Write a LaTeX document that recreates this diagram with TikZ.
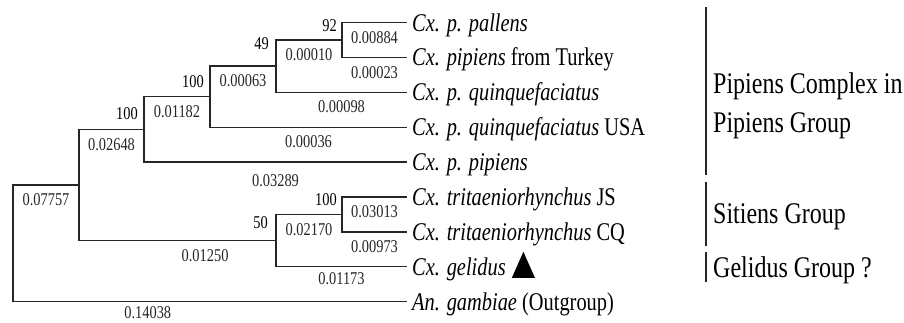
\documentclass[tikz,border=0pt]{standalone}
\usepackage{fontspec}
\setmainfont[FakeStretch=0.8]{Liberation Serif}
\usetikzlibrary{positioning}

\begin{document}
\begin{tikzpicture}[
    x=1pt, y=-1pt,
    branch/.style={line width=1.3pt, black!85},
    bar/.style={line width=1.8pt, black!85},
    leaf/.style={anchor=west, inner xsep=5pt, inner ysep=0pt,
                 text height=17pt, text depth=0pt,
                 font=\fontsize{25.5}{28}\selectfont},
    boot/.style={anchor=east, inner sep=0pt,
                 text height=12pt, text depth=0pt,
                 font=\fontsize{18}{20}\selectfont},
    len/.style={below=7pt, inner sep=1pt,
                text height=12pt, text depth=0pt,
                font=\fontsize{18}{20}\selectfont},
    grp/.style={anchor=base west, inner sep=0pt,
                font=\fontsize{30}{39}\selectfont}
]
  \fill[white] (0,0) rectangle (904,322);
  \useasboundingbox (0,0) rectangle (904,322);

  % Leaves
  \node[leaf] (pal)  at (407,22.5)  {\textit{Cx. p. pallens}};
  \node[leaf] (tur)  at (407,57.4)  {\textit{Cx. pipiens} from Turkey};
  \node[leaf] (quin) at (407,92.3)  {\textit{Cx. p. quinquefaciatus}};
  \node[leaf] (usa)  at (407,127.2) {\textit{Cx. p. quinquefaciatus} USA};
  \node[leaf] (pip)  at (407,162.1) {\textit{Cx. p. pipiens}};
  \node[leaf] (js)   at (407,197)   {\textit{Cx. tritaeniorhynchus} JS};
  \node[leaf] (cq)   at (407,231.9) {\textit{Cx. tritaeniorhynchus} CQ};
  \node[leaf] (gel)  at (407,266.8) {\textit{Cx. gelidus}};
  \node[leaf] (gam)  at (407,301.7) {\textit{An. gambiae} (Outgroup)};
  \fill ([shift={(1,11)}]gel.east) -- ++(23,0) -- ++(-11.5,-26) -- cycle;

  % Internal nodes
  \coordinate (pp)    at (342,39.95);
  \coordinate (quinc) at (276,66.1);
  \coordinate (pipc)  at (210,96.65);
  \coordinate (pipg)  at (144,129.4);
  \coordinate (trit)  at (342,214.45);
  \coordinate (sit)   at (276,240.6);
  \coordinate (culex) at (79,185);
  \coordinate (root)  at (13,243.35);

  % Branches with lengths
  \draw[branch] (pp) |- node[len, pos=0.75] (l1) {0.00884} (pal.west);
  \draw[branch] (pp) |- node[len, pos=0.75] (l2) {0.00023} (tur.west);
  \draw[branch] (quinc) |- node[len, pos=0.75] (l3) {0.00010} (pp);
  \draw[branch] (quinc) |- node[len, pos=0.75] (l4) {0.00098} (quin.west);
  \draw[branch] (pipc) |- node[len, pos=0.75] (l5) {0.00063} (quinc);
  \draw[branch] (pipc) |- node[len, pos=0.75] (l6) {0.00036} (usa.west);
  \draw[branch] (pipg) |- node[len, pos=0.75] (l7) {0.01182} (pipc);
  \draw[branch] (pipg) |- node[len, pos=0.75, yshift=-4pt] (l8) {0.03289} (pip.west);
  \draw[branch] (trit) |- node[len, pos=0.75] (l9) {0.03013} (js.west);
  \draw[branch] (trit) |- node[len, pos=0.75] (l10) {0.00973} (cq.west);
  \draw[branch] (sit) |- node[len, pos=0.75] (l11) {0.02170} (trit);
  \draw[branch] (sit) |- node[len, pos=0.75, yshift=3pt] (l12) {0.01173} (gel.west);
  \draw[branch] (culex) |- node[len, pos=0.75] (l13) {0.02648} (pipg);
  \draw[branch] (culex) |- node[len, pos=0.82] (l14) {0.01250} (sit);
  \draw[branch] (root) |- node[len, pos=0.75] (l15) {0.07757} (culex);
  \draw[branch] (root) |- node[len, pos=0.671, yshift=4pt] (l16) {0.14038} (gam.west);

  % Bootstrap values
  \node[boot] (bs92)  at (337,25)    {92};
  \node[boot] (bs49)  at (269,43)    {49};
  \node[boot] (bs100c) at (204,81)   {100};
  \node[boot] (bs100b) at (138,113)  {100};
  \node[boot] (bs100t) at (337,199)  {100};
  \node[boot] (bs50)  at (268,222.5) {50};

  % Groups
  \draw[bar] (706,7) -- (706,175);
  \draw[bar] (706,182) -- (706,246);
  \draw[bar] (706,252) -- (706,282);
  \node[grp] (pcx) at (713,93)  {Pipiens Complex in};
  \node[grp] (pgr) at (713,132) {Pipiens Group};
  \node[grp] (sgr) at (713,223) {Sitiens Group};
  \node[grp] (ggr) at (713,277) {Gelidus Group ?};
\end{tikzpicture}
\end{document}
